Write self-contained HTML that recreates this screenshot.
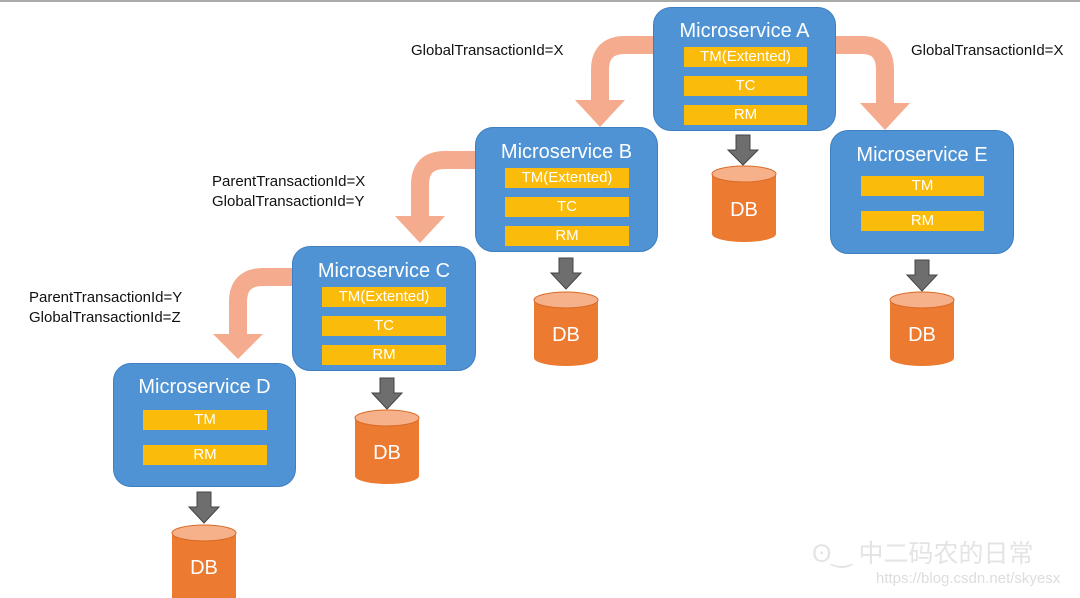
<!DOCTYPE html>
<html><head><meta charset="utf-8"><style>
body{margin:0;width:1080px;height:598px;overflow:hidden;background:#fff;font-family:"Liberation Sans","Noto Sans CJK SC",sans-serif;position:relative}
.box{position:absolute;background:#4f93d4;border:1.5px solid #3f7fc0;border-radius:18px;box-sizing:border-box}
.t{position:absolute;left:0;right:0;text-align:center;color:#fff;font-size:20px}
.bar{position:absolute;background:#fbbb0a;color:#fff;font-size:15px;text-align:center;line-height:20px;height:20px}
.lbl{position:absolute;font-size:15px;color:#111;line-height:20px}
</style></head><body>
<div style="position:absolute;left:0;top:0;width:1080px;height:2px;background:#aaa"></div>
<svg width="1080" height="598" style="position:absolute;left:0;top:0">
<g fill="none" stroke="#f5ab8e" stroke-width="18">
<path d="M655 45 H625 Q600 45 600 70 V102"/>
<path d="M835 45 H862 Q885 45 885 70 V105"/>
<path d="M477 160 H445 Q420 160 420 185 V218"/>
<path d="M294 277 H263 Q238 277 238 302 V336"/>
</g>
<g fill="#f5ab8e">
<polygon points="575,100 625,100 600,127"/>
<polygon points="860,103 910,103 885,130"/>
<polygon points="395,216 445,216 420,243"/>
<polygon points="213,334 263,334 238,359"/>
</g>
<g fill="#6e6e6e" stroke="#444" stroke-width="1">
<polygon points="736,135 750,135 750,150 758,150 743,165 728,150 736,150"/>
<polygon points="559,258 573,258 573,273 581,273 566,289 551,273 559,273"/>
<polygon points="915,260 929,260 929,275 937,275 922,291 907,275 915,275"/>
<polygon points="380,378 394,378 394,393 402,393 387,409 372,393 380,393"/>
<polygon points="197,492 211,492 211,507 219,507 204,523 189,507 197,507"/>
</g>
<g font-family="Liberation Sans" font-size="20" fill="#fff" text-anchor="middle">
<g><path d="M712 174 V234 A32 8 0 0 0 776 234 V174Z" fill="#ec7a30"/><ellipse cx="744" cy="174" rx="32" ry="8" fill="#f6b18b" stroke="#d86a25"/><text x="744" y="216">DB</text></g>
<g><path d="M534 300 V358 A32 8 0 0 0 598 358 V300Z" fill="#ec7a30"/><ellipse cx="566" cy="300" rx="32" ry="8" fill="#f6b18b" stroke="#d86a25"/><text x="566" y="341">DB</text></g>
<g><path d="M890 300 V358 A32 8 0 0 0 954 358 V300Z" fill="#ec7a30"/><ellipse cx="922" cy="300" rx="32" ry="8" fill="#f6b18b" stroke="#d86a25"/><text x="922" y="341">DB</text></g>
<g><path d="M355 418 V476 A32 8 0 0 0 419 476 V418Z" fill="#ec7a30"/><ellipse cx="387" cy="418" rx="32" ry="8" fill="#f6b18b" stroke="#d86a25"/><text x="387" y="459">DB</text></g>
<g><path d="M172 533 V598 H236 V533Z" fill="#ec7a30"/><ellipse cx="204" cy="533" rx="32" ry="8" fill="#f6b18b" stroke="#d86a25"/><text x="204" y="574">DB</text></g>
</g>
</svg>

<div class="box" style="left:653px;top:7px;width:183px;height:124px"><div class="t" style="top:12px">Microservice A</div>
<div class="bar" style="left:30px;top:39px;width:123px">TM(Extented)</div>
<div class="bar" style="left:30px;top:68px;width:123px">TC</div>
<div class="bar" style="left:30px;top:97px;width:123px">RM</div></div>

<div class="box" style="left:475px;top:127px;width:183px;height:125px"><div class="t" style="top:13px">Microservice B</div>
<div class="bar" style="left:29px;top:40px;width:124px">TM(Extented)</div>
<div class="bar" style="left:29px;top:69px;width:124px">TC</div>
<div class="bar" style="left:29px;top:98px;width:124px">RM</div></div>

<div class="box" style="left:830px;top:130px;width:184px;height:124px"><div class="t" style="top:13px">Microservice E</div>
<div class="bar" style="left:30px;top:45px;width:123px">TM</div>
<div class="bar" style="left:30px;top:80px;width:123px">RM</div></div>

<div class="box" style="left:292px;top:246px;width:184px;height:125px"><div class="t" style="top:13px">Microservice C</div>
<div class="bar" style="left:29px;top:40px;width:124px">TM(Extented)</div>
<div class="bar" style="left:29px;top:69px;width:124px">TC</div>
<div class="bar" style="left:29px;top:98px;width:124px">RM</div></div>

<div class="box" style="left:113px;top:363px;width:183px;height:124px"><div class="t" style="top:12px">Microservice D</div>
<div class="bar" style="left:29px;top:46px;width:124px">TM</div>
<div class="bar" style="left:29px;top:81px;width:124px">RM</div></div>

<div class="lbl" style="left:411px;top:41px">GlobalTransactionId=X</div>
<div class="lbl" style="left:911px;top:41px">GlobalTransactionId=X</div>
<div class="lbl" style="left:212px;top:172px">ParentTransactionId=X<br>GlobalTransactionId=Y</div>
<div class="lbl" style="left:29px;top:288px">ParentTransactionId=Y<br>GlobalTransactionId=Z</div>

<div style="position:absolute;left:812px;top:534px;font-size:25px;color:#e4e4e4">ʘ‿ 中二码农的日常</div>
<div style="position:absolute;left:876px;top:570px;font-size:15px;color:#ddd">https://blog.csdn.net/skyesx</div>
</body></html>
